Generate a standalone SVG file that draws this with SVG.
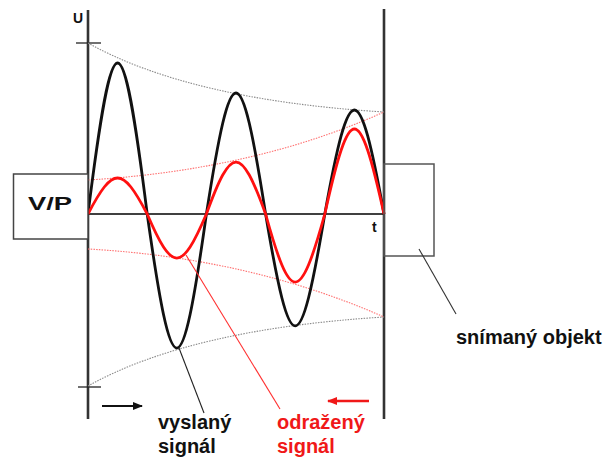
<svg xmlns="http://www.w3.org/2000/svg" width="606" height="461" viewBox="0 0 606 461">
<defs>
<style>
.lbl{font-family:"Liberation Sans",Arial,sans-serif;font-weight:bold;font-size:20px;fill:#111}
.red{fill:#f01818}
.axis{stroke:#333;stroke-width:2.6;fill:none}
.tick{stroke:#222;stroke-width:1.3}
.env{fill:none;stroke-width:1.1;stroke-dasharray:1.5 1.2}
.wave{fill:none;stroke-width:2.8;stroke-linejoin:round}
.lead{stroke-width:1.1;fill:none}
</style>
<marker id="ah-black" viewBox="0 0 10 8" refX="9" refY="4" markerWidth="10" markerHeight="8" markerUnits="userSpaceOnUse" orient="auto">
<path d="M0,0 L10,4 L0,8 Z" fill="#111"/>
</marker>
<marker id="ah-red" viewBox="0 0 10 8" refX="9" refY="4" markerWidth="11" markerHeight="8" markerUnits="userSpaceOnUse" orient="auto">
<path d="M0,0 L10,4 L0,8 Z" fill="#f01818"/>
</marker>
</defs>
<rect width="606" height="461" fill="#fff"/>

<g id="plot">
<line class="axis" x1="88" y1="10" x2="88" y2="419"/>
<line class="axis" x1="384" y1="9" x2="384" y2="419"/>
<line x1="88" y1="214" x2="384" y2="214" stroke="#000" stroke-width="1.6"/>
<line class="tick" x1="76" y1="43" x2="101" y2="43"/>
<line class="tick" x1="78" y1="387" x2="101" y2="387"/>
<text x="73" y="23" class="lbl" style="font-size:14px">U</text>
<text x="372" y="232" class="lbl" style="font-size:14px">t</text>
<path class="env" stroke="#8a8a8a" d="M88,43 Q190,100 384,112"/>
<path class="env" stroke="#8a8a8a" d="M88,386 Q190,329 384,317"/>
<path class="env" stroke="#ff7070" d="M88,180 Q255,170 384,112"/>
<path class="env" stroke="#ff7070" d="M88,249 Q250,258 384,317"/>
<path class="wave" stroke="#111" d="M88,214 C113.1,12.7 122.1,12.7 147.2,214 C172.3,392.7 181.3,392.7 206.4,214 C231.5,52.7 240.5,52.7 265.6,214 C290.7,363.3 299.7,363.3 324.8,214 C349.9,75.3 358.9,75.3 384,214"/>
<path class="wave" stroke="#ff1010" d="M88,214 C113.1,166 122.1,166 147.2,214 C172.3,272.7 181.3,272.7 206.4,214 C231.5,144.7 240.5,144.7 265.6,214 C290.7,304.7 299.7,304.7 324.8,214 C349.9,100.7 358.9,100.7 384,214"/>
</g>

<g id="vp">
<rect x="13.5" y="174" width="74.5" height="65" fill="#fff" stroke="#444" stroke-width="1.5"/>
<text x="28" y="210" class="lbl" style="font-size:19px" textLength="44" lengthAdjust="spacingAndGlyphs">V/P</text>
</g>

<g id="object">
<rect x="384" y="164" width="50" height="92" fill="none" stroke="#555" stroke-width="1.5"/>
<text x="456" y="344" class="lbl">snímaný objekt</text>
</g>

<g id="sent">
<text x="158" y="429" class="lbl">vyslaný</text>
<text x="158" y="453" class="lbl">signál</text>
</g>

<g id="reflected">
<text x="277" y="429" class="lbl red">odražený</text>
<text x="277" y="453" class="lbl red">signál</text>
</g>

<g id="connectors">
<line class="lead" stroke="#333" x1="419" y1="249" x2="456" y2="314"/>
<line class="lead" stroke="#222" x1="179" y1="348" x2="204" y2="413"/>
<line class="lead" stroke="#ff3030" x1="186" y1="255" x2="280" y2="409"/>
<line x1="102" y1="406" x2="142" y2="406" stroke="#111" stroke-width="2" marker-end="url(#ah-black)"/>
<line x1="369" y1="401" x2="328" y2="401" stroke="#f01818" stroke-width="2.6" marker-end="url(#ah-red)"/>
</g>
</svg>
